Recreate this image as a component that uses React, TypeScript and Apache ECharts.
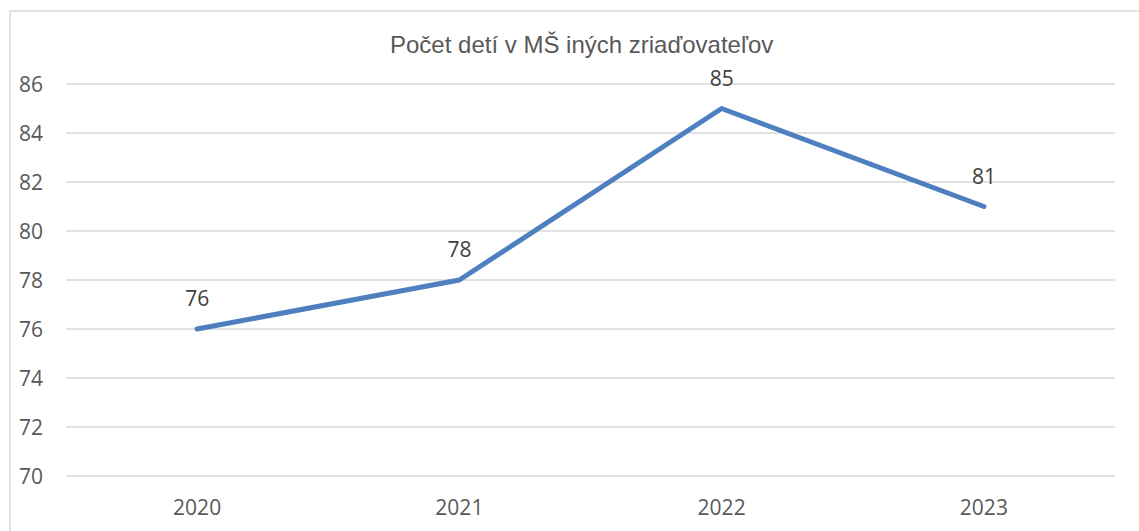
import React, { useEffect, useRef } from "react";
import * as echarts from "echarts";

const titleText = "Počet detí v MŠ iných zriaďovateľov";
const categories = ["2020", "2021", "2022", "2023"];
const values = [76, 78, 85, 81];
const yMin = 70;
const yMax = 86;
const yStep = 2;

export default function App() {
  const ref = useRef<HTMLDivElement>(null);
  useEffect(() => {
    if (!ref.current) return;
    const chart = echarts.init(ref.current, undefined, { renderer: "svg" });
    chart.setOption({
      animation: false,
      backgroundColor: "#ffffff",
      title: {
        text: titleText,
        left: 390,
        top: 32,
        padding: 0,
        textStyle: {
          fontFamily: "Liberation Sans",
          fontSize: 24,
          fontWeight: "normal",
          color: "#595959",
        },
      },
      graphic: [
        {
          type: "rect",
          shape: { x: 10, y: 11, width: 1140, height: 540 },
          style: { fill: "none", stroke: "#d9d9d9", lineWidth: 1.5 },
          silent: true,
        },
      ],
      grid: { left: 66, right: 24, top: 84, bottom: 55, containLabel: false },
      xAxis: {
        type: "category",
        data: categories,
        boundaryGap: true,
        axisLine: { show: false },
        axisTick: { show: false },
        axisLabel: {
          margin: 20,
          fontFamily: "Open Sans",
          fontSize: 21,
          color: "#595959",
        },
      },
      yAxis: {
        type: "value",
        min: yMin,
        max: yMax,
        interval: yStep,
        axisLine: { show: false },
        axisTick: { show: false },
        axisLabel: {
          margin: 23,
          fontFamily: "Open Sans",
          fontSize: 21,
          color: "#595959",
        },
        splitLine: { lineStyle: { color: "#d9d9d9", width: 1.5 } },
      },
      series: [
        {
          type: "line",
          data: values,
          symbol: "circle",
          symbolSize: 1,
          showSymbol: true,
          itemStyle: { color: "#4e7fbf" },
          lineStyle: { color: "#4e7fbf", width: 5, cap: "round", join: "round" },
          label: {
            show: true,
            position: "top",
            distance: 20,
            fontFamily: "Open Sans",
            fontSize: 21,
            color: "#404040",
          },
        },
      ],
    });
    return () => chart.dispose();
  }, []);
  return (
    <div
      ref={ref}
      style={{ position: "fixed", left: 0, top: 0, width: 1139, height: 531 }}
    />
  );
}
